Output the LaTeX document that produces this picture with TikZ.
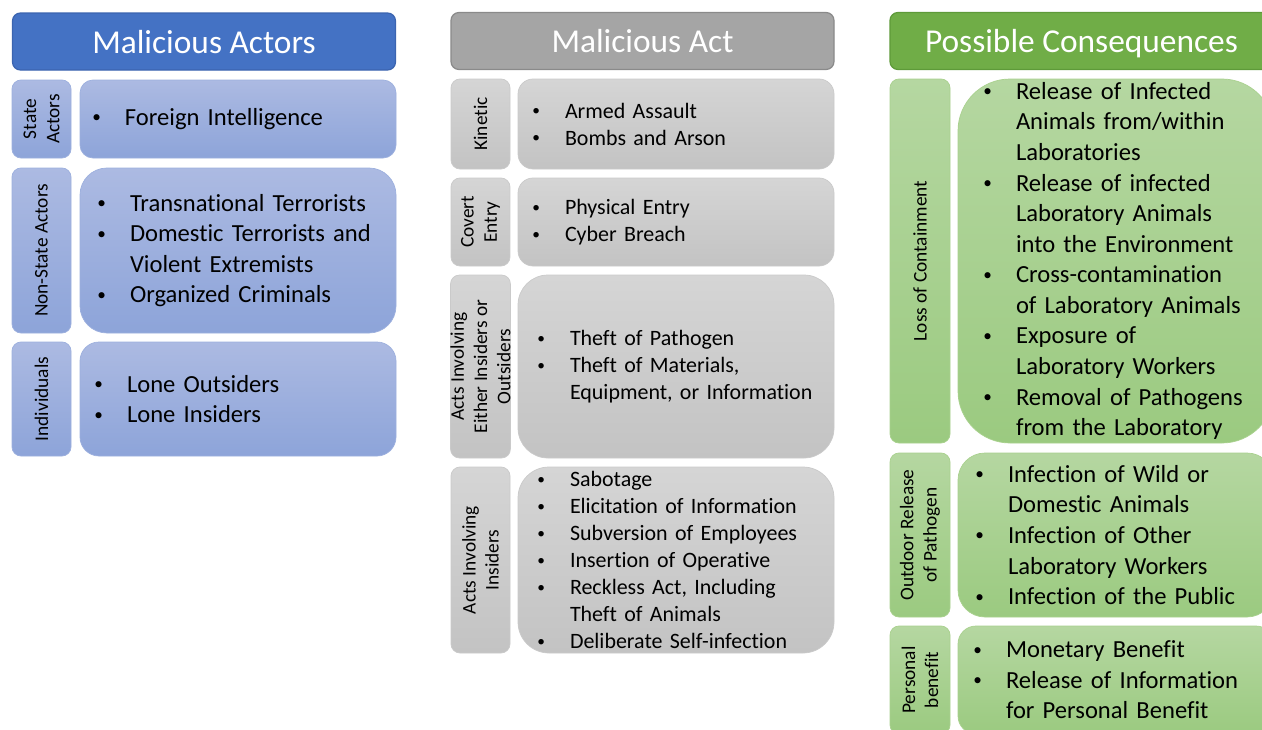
\documentclass[tikz,border=0pt]{standalone}
\usepackage{fontspec}
\setmainfont[Ligatures=NoCommon]{Carlito}
\usepackage{tikz}
\usetikzlibrary{positioning}
\usepackage{xcolor}
\definecolor{actorsdark}{HTML}{4472C4}
\definecolor{actorsedge}{HTML}{3B64B0}
\definecolor{actorstop}{HTML}{ACBAE2}
\definecolor{actorsbottom}{HTML}{8DA4D9}
\definecolor{actorsline}{HTML}{9DB0DE}
\definecolor{actdark}{HTML}{A5A5A5}
\definecolor{actedge}{HTML}{8A8A8A}
\definecolor{acttop}{HTML}{D5D5D5}
\definecolor{actbottom}{HTML}{C3C3C3}
\definecolor{actline}{HTML}{CACACA}
\definecolor{consdark}{HTML}{70AD47}
\definecolor{consedge}{HTML}{5E9A39}
\definecolor{constop}{HTML}{B5D7A1}
\definecolor{consbottom}{HTML}{9BCA80}
\definecolor{consline}{HTML}{A9D18E}
\setlength{\parindent}{0pt}
\newlength{\px}
\setlength{\px}{0.02cm}
\newcommand{\itm}{\makebox[34\px][l]{\hspace*{0.06em}\raisebox{0.1em}{\scalebox{0.7}{\textbullet}}}}
\newcommand{\cnt}{\hspace*{34\px}}
\newcommand{\bigtext}{\fontsize{14}{17.4}\selectfont}
\newcommand{\midtext}{\fontsize{12.5}{15.4}\selectfont}

\begin{document}
\begin{tikzpicture}[x=0.02cm, y=-0.02cm,
    header/.style={rectangle, rounded corners=8\px, minimum width=383\px, minimum height=57\px,
        inner sep=0pt, text depth=0pt, text=white, font=\fontsize{19}{23}\selectfont, line width=0.7pt},
    side/.style={rectangle, rounded corners=9\px, rotate=90, minimum height=59\px,
        inner sep=0pt, align=center, font=\fontsize{11}{13.2}\selectfont, line width=0.4pt},
    body/.style n args={4}{rectangle, minimum width=316\px, minimum height=#1\px,
        rounded corners=#2\px, inner xsep=#3\px, inner ysep=0pt, text width=#4\px,
        align=left, line width=0.4pt},
    actor/.style={top color=actorstop, bottom color=actorsbottom, draw=actorsline},
    act/.style={top color=acttop, bottom color=actbottom, draw=actline},
    cons/.style={top color=constop, bottom color=consbottom, draw=consline}
]
    \fill[white] (0,0) rectangle (1262,730);
    \useasboundingbox (0,0) rectangle (1262,730);
    \clip (0,0) rectangle (1262,730);

    \node[header, fill=actorsdark, draw=actorsedge] (actors) at (204,41.5) {Malicious Actors};
    \node[side, actor, minimum width=78\px] (sa-l) at (41.5,119) {State\\Actors};
    \node[body={78}{13}{11}{294}, actor, font=\bigtext] (sa) at (238,119) {\itm Foreign Intelligence};
    \node[side, actor, minimum width=165\px] (nsa-l) at (41.5,250.5) {Non-State Actors};
    \node[body={165}{27}{16}{284}, actor, font=\bigtext] (nsa) at (238,250.5)
        {\itm Transnational Terrorists\\ \itm Domestic Terrorists and\\ \cnt Violent Extremists\\ \itm Organized Criminals};
    \node[side, actor, minimum width=114\px] (ind-l) at (41.5,399) {Individuals};
    \node[body={114}{19}{13}{290}, actor, font=\bigtext] (ind) at (238,399)
        {\itm Lone Outsiders\\ \itm Lone Insiders};

    \node[header, fill=actdark, draw=actedge] (act) at (642.5,41) {Malicious Act};
    \node[side, act, minimum width=90\px] (kin-l) at (480.5,124) {Kinetic};
    \node[body={90}{15}{13}{290}, act, font=\midtext] (kin) at (676,124)
        {\itm Armed Assault\\ \itm Bombs and Arson};
    \node[side, act, minimum width=88\px] (cov-l) at (480.5,222) {Covert\\Entry};
    \node[body={88}{15}{13}{290}, act, font=\midtext] (cov) at (676,222)
        {\itm Physical Entry\\ \itm Cyber Breach};
    \node[side, act, minimum width=183\px] (eit-l) at (480.5,366.5) {Acts Involving\\Either Insiders or\\Outsiders};
    \node[body={183}{30}{18}{280}, act, font=\midtext] (eit) at (676,366.5)
        {\itm Theft of Pathogen\\ \itm Theft of Materials,\\ \cnt Equipment, or Information};
    \node[side, act, minimum width=186\px] (ins-l) at (480.5,560) {Acts Involving\\Insiders};
    \node[body={186}{31}{18}{280}, act, font=\midtext] (ins) at (676,560)
        {\itm Sabotage\\ \itm Elicitation of Information\\ \itm Subversion of Employees\\
         \itm Insertion of Operative\\ \itm Reckless Act, Including\\ \cnt Theft of Animals\\
         \itm Deliberate Self-infection};

    \node[header, fill=consdark, draw=consedge] (cons) at (1081.5,41) {Possible Consequences};
    \node[side, cons, minimum width=364\px, minimum height=60\px] (loss-l) at (920,261) {Loss of Containment};
    \node[body={364}{52}{24}{268}, cons, font=\bigtext] (loss) at (1116,261)
        {\itm Release of Infected\\ \cnt Animals from/within\\ \cnt Laboratories\\
         \itm Release of infected\\ \cnt Laboratory Animals\\ \cnt into the Environment\\
         \itm Cross-contamination\\ \cnt of Laboratory Animals\\ \itm Exposure of\\
         \cnt Laboratory Workers\\ \itm Removal of Pathogens\\ \cnt from the Laboratory};
    \node[side, cons, minimum width=164\px, minimum height=60\px] (out-l) at (920,535) {Outdoor Release\\of Pathogen};
    \node[body={164}{27}{16}{284}, cons, font=\bigtext] (out) at (1116,535)
        {\itm Infection of Wild or\\ \cnt Domestic Animals\\ \itm Infection of Other\\
         \cnt Laboratory Workers\\ \itm Infection of the Public};
    \node[side, cons, minimum width=108\px, minimum height=60\px] (pers-l) at (920,680) {Personal\\benefit};
    \node[body={108}{18}{14}{288}, cons, font=\bigtext] (pers) at (1116,680)
        {\itm Monetary Benefit\\ \itm Release of Information\\ \cnt for Personal Benefit};
\end{tikzpicture}
\end{document}
